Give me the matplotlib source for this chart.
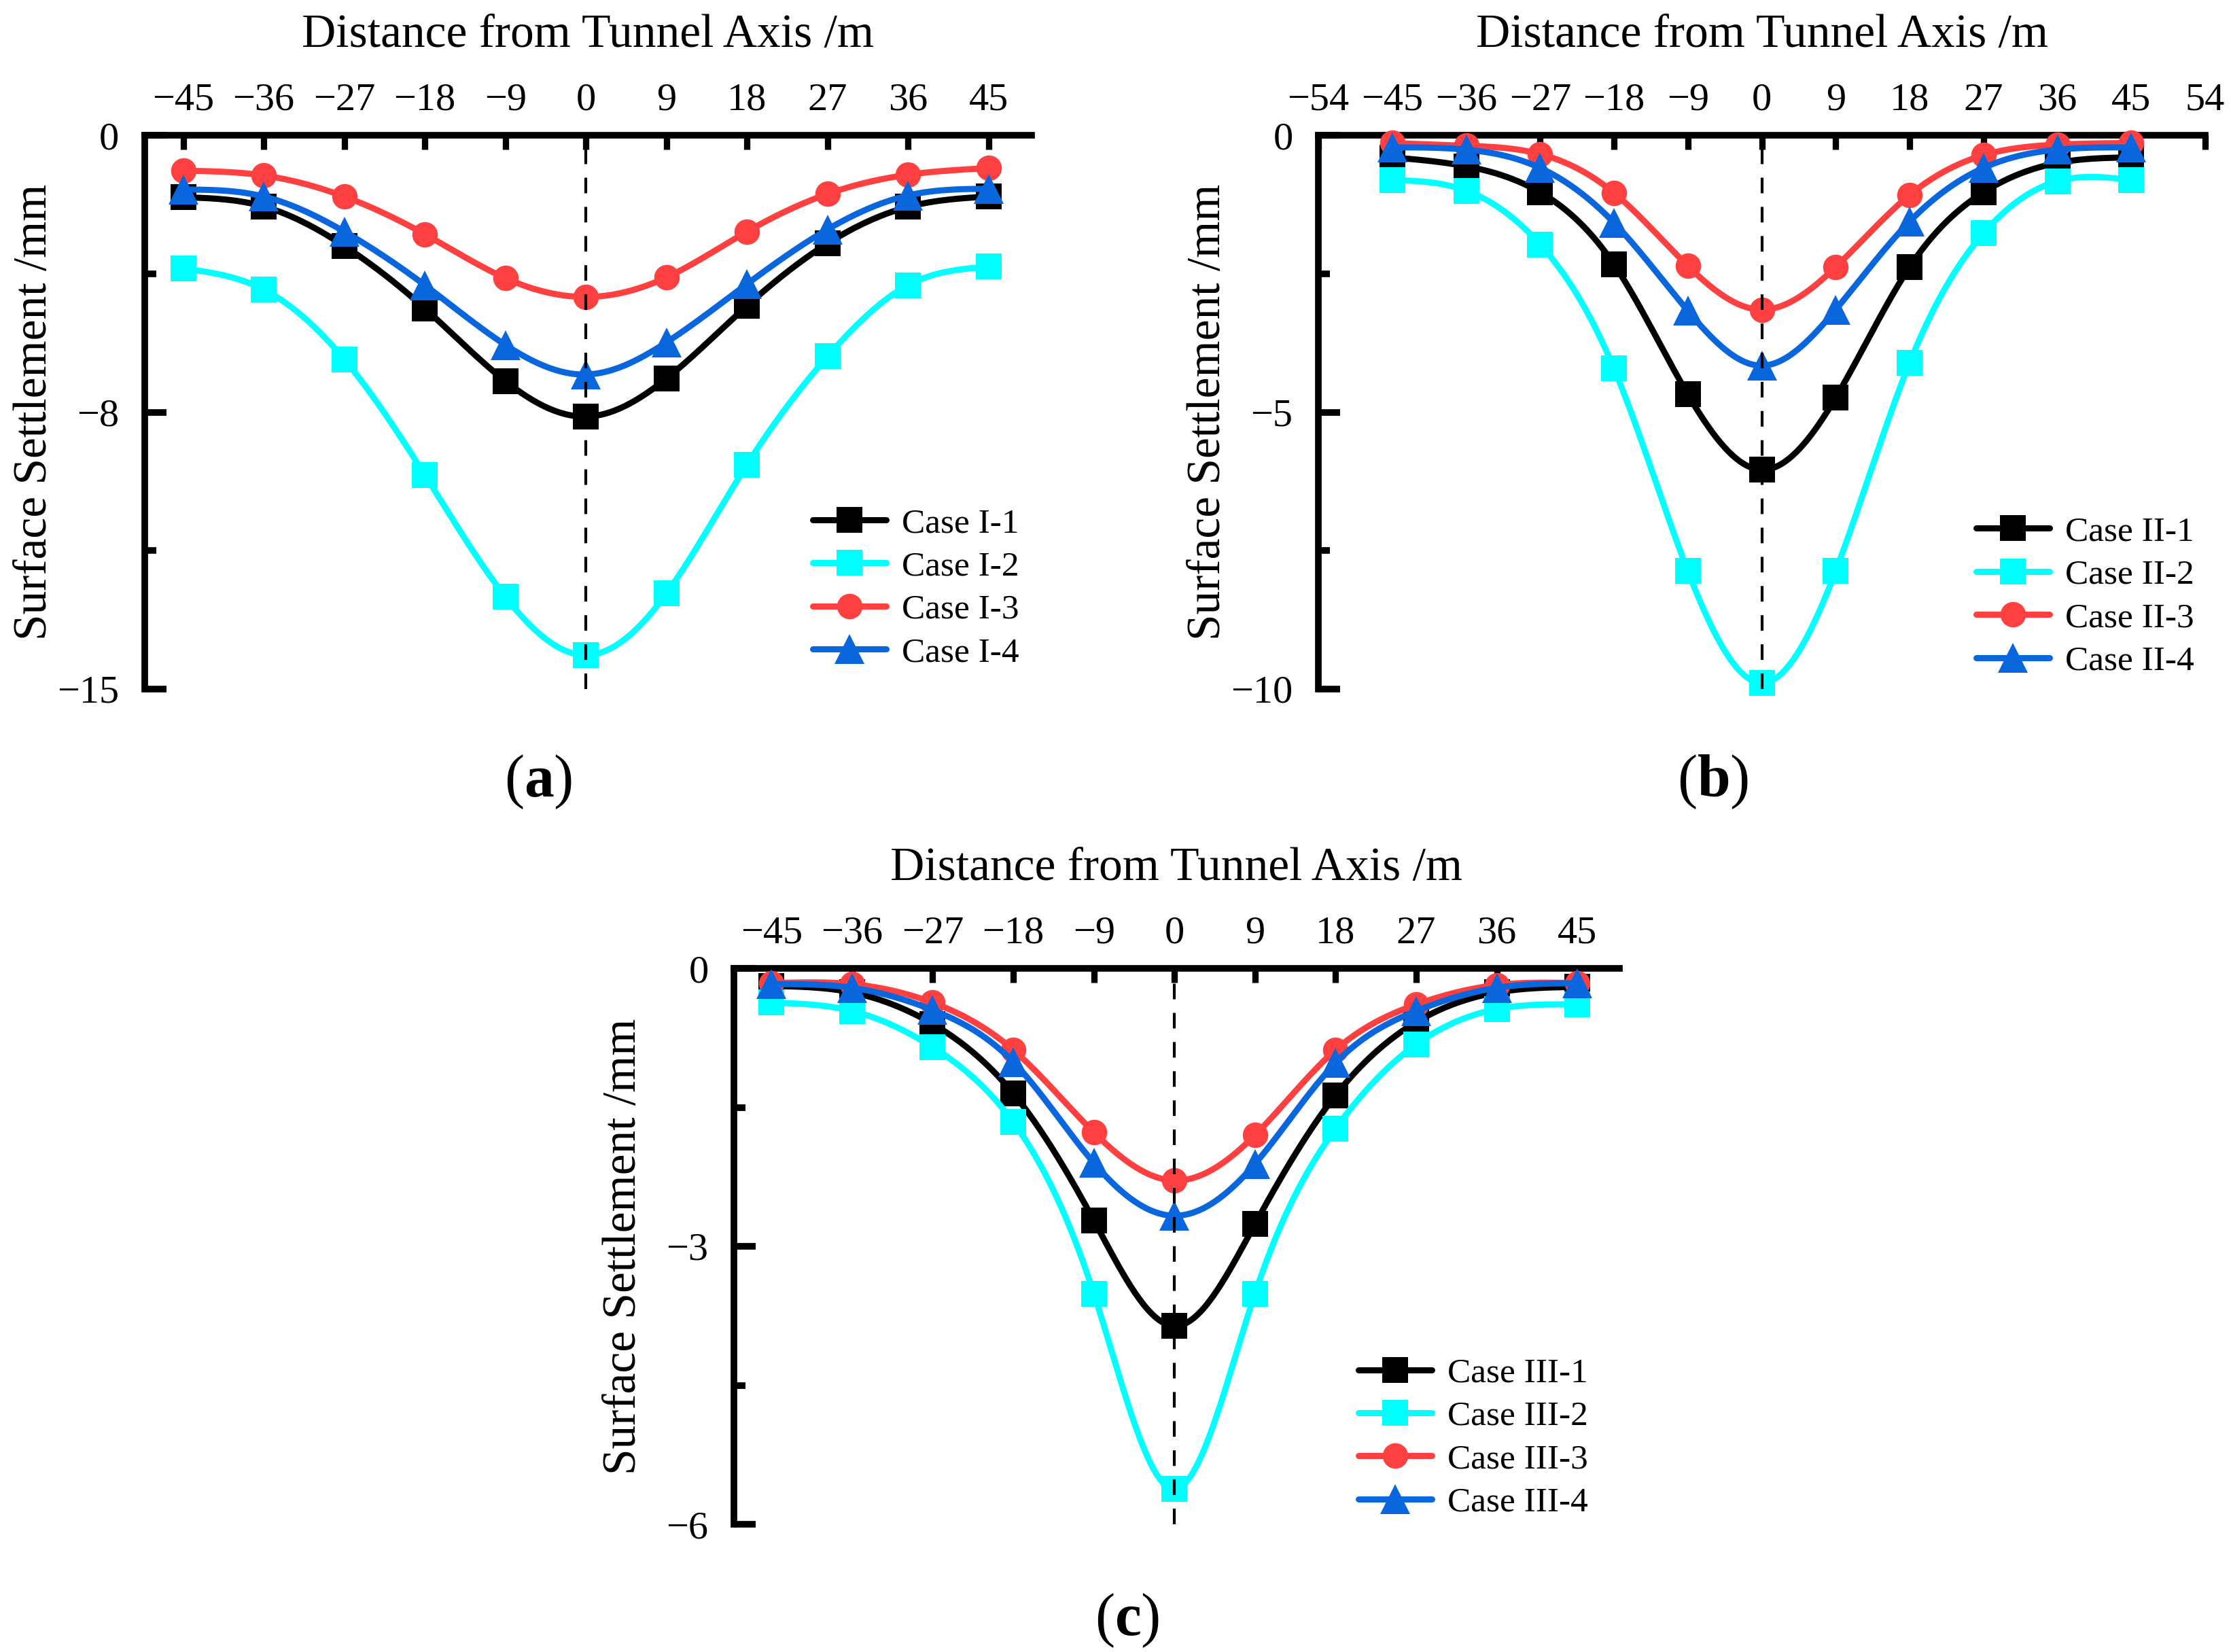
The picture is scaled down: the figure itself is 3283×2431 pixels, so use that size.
import matplotlib
matplotlib.use("Agg")
import matplotlib.pyplot as plt
from matplotlib.lines import Line2D
import numpy as np

plt.rcParams["font.family"] = ["Liberation Serif", "DejaVu Serif"]
plt.rcParams["mathtext.fontset"] = "custom"
plt.rcParams["mathtext.rm"] = "Liberation Serif"
plt.rcParams["mathtext.bf"] = "Liberation Serif:bold"

# положения точек по оси X (м)
dist = [-45, -36, -27, -18, -9, 0, 9, 18, 27, 36, 45]

# (a) осадки, мм
case_I_1 = [-1.68, -1.93, -3.00, -4.69, -6.66, -7.62, -6.59, -4.62, -2.93, -1.94, -1.66]
case_I_2 = [-3.61, -4.18, -6.07, -9.20, -12.50, -14.08, -12.41, -8.92, -5.99, -4.06, -3.56]
case_I_3 = [-0.96, -1.09, -1.66, -2.68, -3.87, -4.38, -3.85, -2.61, -1.59, -1.07, -0.89]
case_I_4 = [-1.47, -1.66, -2.61, -4.06, -5.68, -6.48, -5.61, -4.03, -2.55, -1.63, -1.45]

# (b)
case_II_1 = [-0.40, -0.56, -1.03, -2.33, -4.68, -6.04, -4.74, -2.38, -1.03, -0.50, -0.40]
case_II_2 = [-0.81, -1.00, -1.97, -4.21, -7.87, -9.89, -7.87, -4.11, -1.77, -0.83, -0.81]
case_II_3 = [-0.14, -0.19, -0.34, -1.04, -2.36, -3.15, -2.38, -1.08, -0.36, -0.17, -0.14]
case_II_4 = [-0.22, -0.26, -0.59, -1.58, -3.17, -4.16, -3.15, -1.56, -0.59, -0.26, -0.22]

# (c)
case_III_1 = [-0.19, -0.26, -0.60, -1.35, -2.72, -3.86, -2.76, -1.37, -0.58, -0.26, -0.20]
case_III_2 = [-0.37, -0.46, -0.85, -1.66, -3.51, -5.62, -3.51, -1.73, -0.82, -0.44, -0.39]
case_III_3 = [-0.16, -0.17, -0.37, -0.88, -1.77, -2.29, -1.80, -0.88, -0.39, -0.18, -0.16]
case_III_4 = [-0.17, -0.21, -0.45, -1.01, -2.10, -2.67, -2.11, -1.02, -0.46, -0.21, -0.16]

xticks_ac = [-45, -36, -27, -18, -9, 0, 9, 18, 27, 36, 45]
xticks_b = [-54, -45, -36, -27, -18, -9, 0, 9, 18, 27, 36, 45, 54]

# стили серий: цвет, маркер, размер маркера
STYLES = [("#000000", "s", 27), ("#00FFFF", "s", 27),
          ("#FF4040", "o", 27), ("#0A66DC", "^", 32)]

W, H = 3283, 2431


def spline_curve(x, y, n=400):
    # натуральный кубический сплайн через точки (как "Spline" в Origin)
    x = np.asarray(x, float)
    y = np.asarray(y, float)
    m = len(x)
    h = np.diff(x)
    A = np.zeros((m, m))
    r = np.zeros(m)
    A[0, 0] = A[-1, -1] = 1
    for i in range(1, m - 1):
        A[i, i - 1] = h[i - 1]
        A[i, i] = 2 * (h[i - 1] + h[i])
        A[i, i + 1] = h[i]
        r[i] = 3 * ((y[i + 1] - y[i]) / h[i] - (y[i] - y[i - 1]) / h[i - 1])
    c = np.linalg.solve(A, r)
    b = (y[1:] - y[:-1]) / h - h * (2 * c[:-1] + c[1:]) / 3
    d = (c[1:] - c[:-1]) / (3 * h)
    xs = np.linspace(x[0], x[-1], n)
    idx = np.clip(np.searchsorted(x, xs) - 1, 0, m - 2)
    dx = xs - x[idx]
    ys = y[idx] + b[idx] * dx + c[idx] * dx ** 2 + d[idx] * dx ** 3
    return xs, ys


def rect(left, top, right, bottom):
    return [left / W, 1 - bottom / H, (right - left) / W, (bottom - top) / H]


def draw_panel(fig, box, series, labels, xlim, xticks, ylim, yticks, ylabels,
               yminor, leg_xy, letter, letter_xy):
    ax = fig.add_axes(rect(*box))
    for y, (col, mk, ms), lab in zip(series, STYLES, labels):
        xs, ys = spline_curve(dist, y)
        ax.plot(xs, ys, color=col, lw=6.5, solid_capstyle="round",
                zorder=3, clip_on=False)
        ax.plot(dist, y, ls="none", marker=mk, ms=ms, mew=0, color=col,
                zorder=3, clip_on=False)
    ax.axvline(0, color="black", lw=3, ls=(0, (5.5, 4.8)), zorder=5)

    ax.set_xlim(*xlim)
    ax.set_ylim(*ylim)
    ax.set_xticks(xticks)
    ax.set_xticklabels([f"{t}".replace("-", "\u2212") for t in xticks])
    ax.set_yticks(yticks)
    ax.set_yticklabels(ylabels)
    ax.set_yticks(yminor, minor=True)

    ax.xaxis.tick_top()
    for s in ("right", "bottom"):
        ax.spines[s].set_visible(False)
    for s in ("left", "top"):
        ax.spines[s].set_linewidth(7)
    ax.tick_params(axis="x", which="major", direction="in", length=15,
                   width=6.7, pad=18, labelsize=42, top=True, bottom=False)
    ax.tick_params(axis="x", which="minor", top=False, bottom=False)
    ax.tick_params(axis="y", which="major", direction="in", length=23,
                   width=7, pad=27, labelsize=42)
    ax.tick_params(axis="y", which="minor", direction="in", length=12, width=7)

    handles = [Line2D([], [], color=c, lw=6.5, marker=m, ms=s, mew=0,
                      solid_capstyle="round") for c, m, s in STYLES]
    ax.legend(handles, labels, loc="center left", bbox_to_anchor=leg_xy,
              frameon=False, fontsize=37, handlelength=2.1, handletextpad=0.45,
              labelspacing=0.32, borderpad=0, borderaxespad=0, numpoints=1)

    left, top, right, bottom = box
    cx = (left + right) / 2
    fig.text(cx / W, 1 - (top - 130) / H, "Distance from Tunnel Axis /m",
             ha="center", va="baseline", fontsize=50)
    fig.text((left - 145) / W, 1 - (top + bottom) / 2 / H,
             "Surface Settlement /mm", rotation=90, rotation_mode="anchor",
             ha="center", va="baseline", fontsize=50)
    fig.text(letter_xy[0] / W, 1 - letter_xy[1] / H,
             r"($\mathbf{" + letter + "}$)", ha="center", va="baseline",
             fontsize=63)
    return ax


fig = plt.figure(figsize=(W / 100, H / 100), dpi=100)

draw_panel(fig, (213, 199, 1518, 1014),
           [case_I_1, case_I_2, case_I_3, case_I_4],
           ["Case I-1", "Case I-2", "Case I-3", "Case I-4"],
           (-49.3, 49.8), xticks_ac, (-15, 0), [0, -7.5, -15],
           ["0", "\u22128", "\u221215"], [-3.75, -11.25],
           (0.753, 0.182), "a", (792, 1172))

draw_panel(fig, (1940, 199, 3245, 1014),
           [case_II_1, case_II_2, case_II_3, case_II_4],
           ["Case II-1", "Case II-2", "Case II-3", "Case II-4"],
           (-54, 54), xticks_b, (-10, 0), [0, -5, -10],
           ["0", "\u22125", "\u221210"], [-2.5, -7.5],
           (0.742, 0.167), "b", (2521, 1172))

draw_panel(fig, (1080, 1425, 2383, 2243),
           [case_III_1, case_III_2, case_III_3, case_III_4],
           ["Case III-1", "Case III-2", "Case III-3", "Case III-4"],
           (-49.2, 49.7), xticks_ac, (-6, 0), [0, -3, -6],
           ["0", "\u22123", "\u22126"], [-1.5, -4.5],
           (0.705, 0.155), "c", (1659, 2406))

fig.savefig("out.png", dpi=100)
